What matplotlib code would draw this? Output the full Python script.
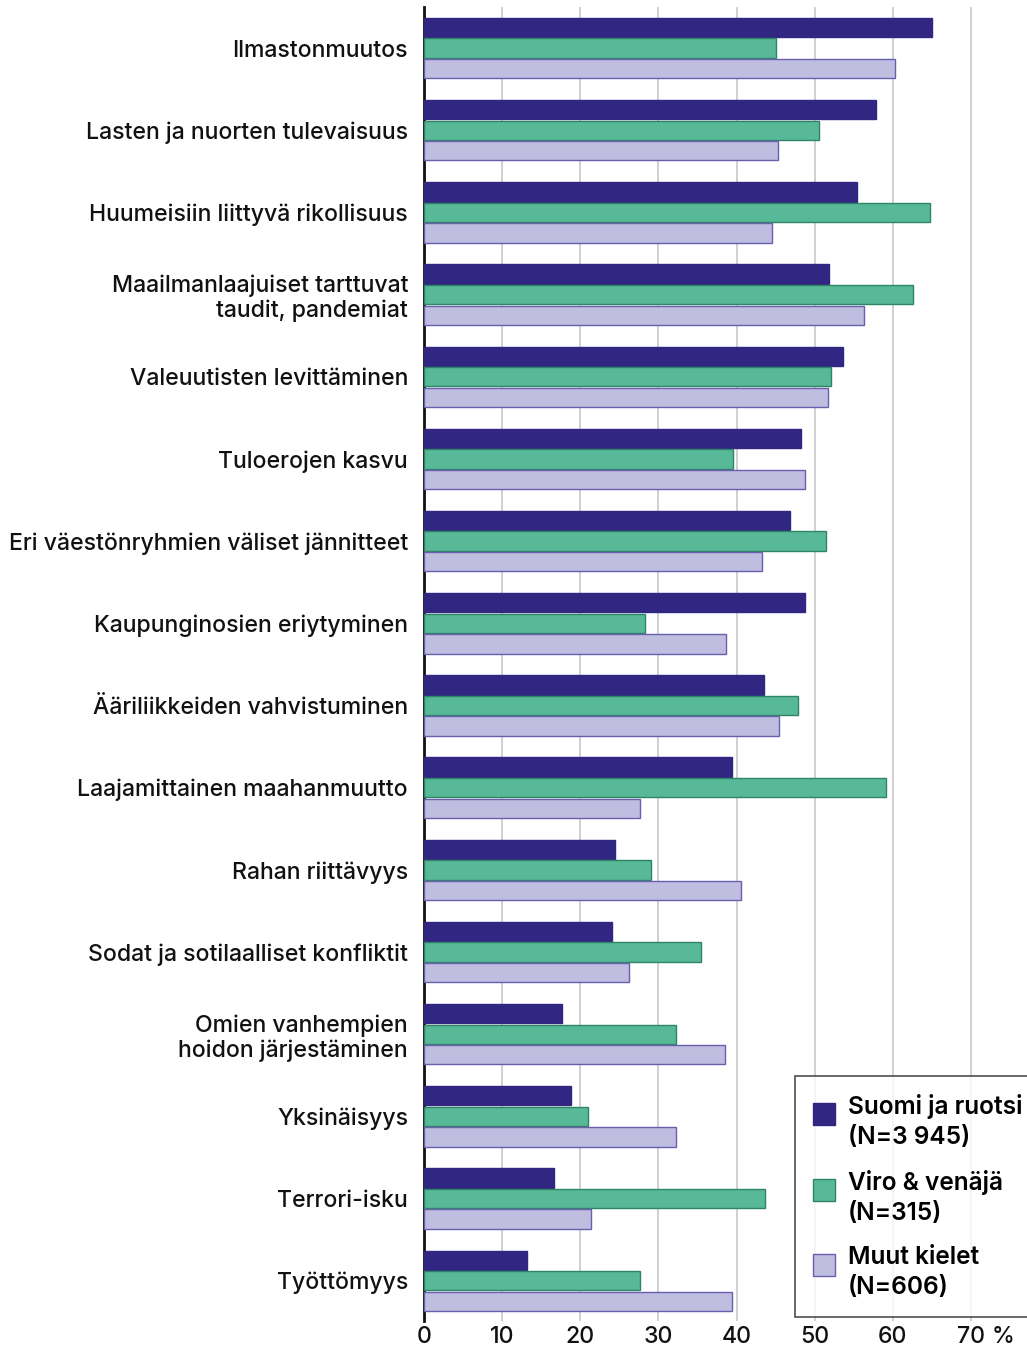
import matplotlib
matplotlib.use("Agg")
import matplotlib.pyplot as plt
from matplotlib.patches import Rectangle
from matplotlib.container import BarContainer
from matplotlib.legend_handler import HandlerPatch, update_from_first_child
import numpy as np

categories = [
    "Ilmastonmuutos",
    "Lasten ja nuorten tulevaisuus",
    "Huumeisiin liittyvä rikollisuus",
    "Maailmanlaajuiset tarttuvat\ntaudit, pandemiat",
    "Valeuutisten levittäminen",
    "Tuloerojen kasvu",
    "Eri väestönryhmien väliset jännitteet",
    "Kaupunginosien eriytyminen",
    "Ääriliikkeiden vahvistuminen",
    "Laajamittainen maahanmuutto",
    "Rahan riittävyys",
    "Sodat ja sotilaalliset konfliktit",
    "Omien vanhempien\nhoidon järjestäminen",
    "Yksinäisyys",
    "Terrori-isku",
    "Työttömyys",
]
suomi_ruotsi = [65.0, 57.8, 55.4, 51.8, 53.6, 48.2, 46.9, 48.7, 43.5, 39.4, 24.4, 24.1, 17.7, 18.8, 16.7, 13.2]
viro_venaja = [45.1, 50.5, 64.7, 62.6, 52.1, 39.6, 51.4, 28.3, 47.9, 59.1, 29.0, 35.4, 32.2, 21.0, 43.6, 27.6]
muut_kielet = [60.3, 45.3, 44.5, 56.3, 51.7, 48.8, 43.2, 38.6, 45.4, 27.6, 40.6, 26.2, 38.5, 32.2, 21.4, 39.4]
series_labels = ["Suomi ja ruotsi\n(N=3 945)", "Viro & venäjä\n(N=315)", "Muut kielet\n(N=606)"]
xticks = [0, 10, 20, 30, 40, 50, 60, 70]
xtick_labels = ["0", "10", "20", "30", "40", "50", "60", "70"]
unit_label = "%"

plt.rcParams['font.family'] = ['Inter', 'DejaVu Sans']
FS = 16.6
LFS = 17.6

fig = plt.figure(figsize=(10.27, 13.46), dpi=100)
ax = fig.add_axes([424/1027, 1-1321/1346, 1-424/1027 + 0.001, (1321-7)/1346])

y = np.arange(len(categories))
pitch = 0.25
h = 0.235
styles = [
    dict(color="#312783", edgecolor="#312783"),
    dict(color="#57B997", edgecolor="#2E8565"),
    dict(color="#BFBDE0", edgecolor="#6A5EAE"),
]
for i, (vals, st, lab) in enumerate(zip([suomi_ruotsi, viro_venaja, muut_kielet], styles, series_labels)):
    ax.barh(y + (i - 1) * pitch, vals, height=h, linewidth=1, label=lab, zorder=3, **st)

ax.set_ylim(len(categories) - 1 + 0.49, -0.5)
ax.set_xlim(0, 77.3)
ax.set_yticks(y)
ax.set_yticklabels(categories, fontsize=FS, color="#111111", linespacing=1.15, weight="medium")
ax.set_xticks(xticks)
ax.set_xticklabels(xtick_labels, fontsize=FS, color="#111111", weight="medium")
ax.tick_params(axis='y', length=0, pad=11.5)
ax.tick_params(axis='x', length=0, pad=3.5)
ax.annotate(unit_label, xy=(xticks[-1], 0), xycoords=('data', 'axes fraction'),
            xytext=(15, -3.5), textcoords='offset points', ha='left', va='top',
            fontsize=FS, color="#111111", weight="medium")
ax.xaxis.grid(True, color="#C8C8C8", linewidth=1.2, zorder=0)
ax.set_axisbelow(True)
for s in ["top", "right", "bottom"]:
    ax.spines[s].set_visible(False)
ax.spines["left"].set_linewidth(2)
ax.spines["left"].set_color("#111111")


def top_square(legend, orig_handle, xdescent, ydescent, width, height, fontsize):
    s = 0.9 * fontsize
    return Rectangle((-xdescent, -ydescent + height - s), width, s)


leg = ax.legend(loc="upper left", bbox_to_anchor=(795/1027, 1-1076/1346), bbox_transform=fig.transFigure,
                prop=dict(size=LFS, weight="semibold"), frameon=True, fancybox=False, edgecolor="#222222",
                handlelength=0.9, handleheight=2.17, handletextpad=0.5, labelspacing=0.87,
                borderpad=0.75, borderaxespad=0,
                handler_map={BarContainer: HandlerPatch(patch_func=top_square,
                                                        update_func=update_from_first_child)})
leg.get_frame().set_linewidth(1.2)
leg.set_zorder(5)
for t in leg.get_texts():
    t.set_linespacing(1.37)

fig.savefig("out.png", dpi=100, facecolor="white")
